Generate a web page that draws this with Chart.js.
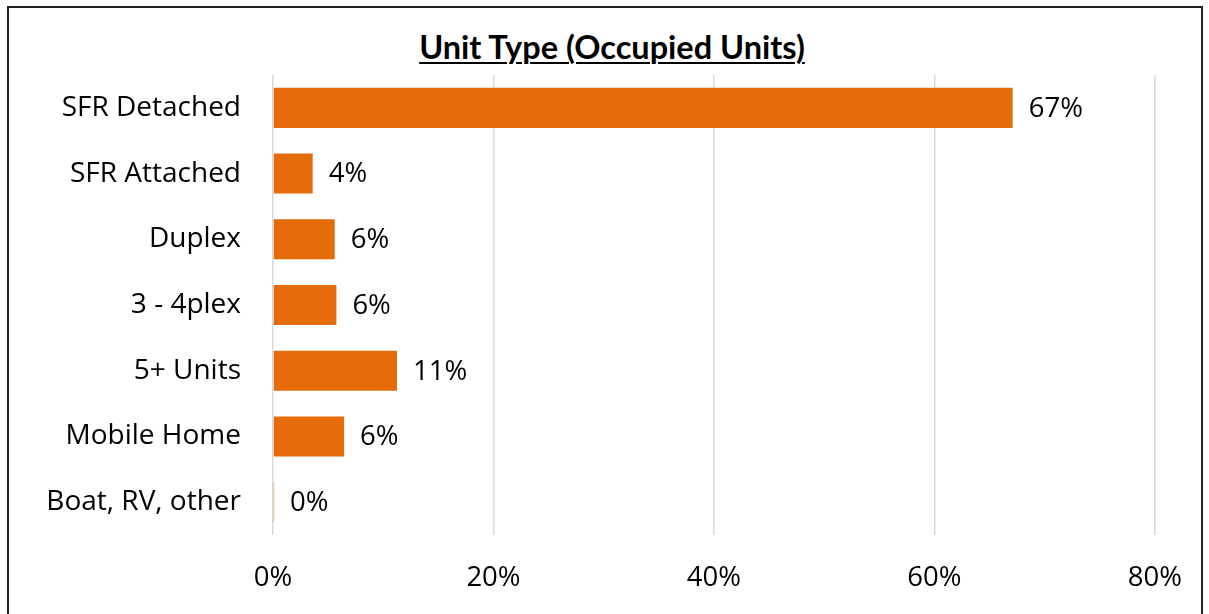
<!DOCTYPE html>
<html>
<head>
<meta charset="utf-8">
<script src="https://cdn.jsdelivr.net/npm/chart.js@4"></script>
<style>
  body { margin: 0; background: #fff; }
  #wrap { position: relative; width: 1209px; height: 614px; overflow: hidden; }
  #frame { position: absolute; left: 7px; top: 6px; width: 1196px; height: 640px; border: 2px solid #222; box-sizing: border-box; }
  #title { position: absolute; left: 0; width: 1224px; top: 27px; text-align: center;
           font-family: Lato, sans-serif; font-weight: bold; font-size: 32.5px; color: #000;
           text-decoration: underline; text-decoration-thickness: 2px; text-underline-offset: 3px; }
  canvas { position: absolute; left: 0; top: 0; }
</style>
</head>
<body>
<div id="wrap">
  <div id="frame"></div>
  <div id="title">Unit Type (Occupied Units)</div>
  <canvas id="unitChart" width="1209" height="614"></canvas>
</div>
<script>
// Unit type shares (percent of occupied units)
const unitTypes = ['SFR Detached', 'SFR Attached', 'Duplex', '3 - 4plex', '5+ Units', 'Mobile Home', 'Boat, RV, other'];
const unitShares = [67.1, 3.6, 5.6, 5.75, 11.25, 6.45, 0.1];
const xTicks = [0, 20, 40, 60, 80];

const barColor = '#E46C0A';
const fontFamily = '"Open Sans", sans-serif';

// draws the "67%" style labels at the end of each bar
const valueLabels = {
    id: 'valueLabels',
    afterDatasetsDraw(chart) {
        const ctx = chart.ctx;
        const meta = chart.getDatasetMeta(0);
        ctx.save();
        ctx.font = '27.5px ' + fontFamily;
        ctx.fillStyle = '#000';
        ctx.textAlign = 'left';
        ctx.textBaseline = 'middle';
        meta.data.forEach(function(bar, i) {
            ctx.fillText(Math.round(unitShares[i]) + '%', bar.x + 16, bar.y + 1);
        });
        ctx.restore();
    }
};

document.addEventListener('DOMContentLoaded', function() {
    const ctx = document.getElementById('unitChart').getContext('2d');
    new Chart(ctx, {
        type: 'bar',
        data: {
            labels: unitTypes,
            datasets: [{
                data: unitShares,
                backgroundColor: barColor,
                borderWidth: 0,
                categoryPercentage: 1,
                barPercentage: 0.61
            }]
        },
        options: {
            indexAxis: 'y',
            responsive: false,
            animation: false,
            layout: { padding: { left: 0, right: 54, top: 75, bottom: 0 } },
            plugins: {
                legend: { display: false },
                tooltip: { enabled: false }
            },
            scales: {
                x: {
                    min: 0,
                    max: 80,
                    afterBuildTicks: function(scale) {
                        scale.ticks = xTicks.map(function(v) { return { value: v }; });
                    },
                    afterFit: function(scale) { scale.height = 79; },
                    grid: { color: '#d9d9d9', lineWidth: 1.5, drawTicks: false },
                    border: { display: false },
                    ticks: {
                        padding: 27,
                        color: '#000',
                        font: { family: fontFamily, size: 27.5 },
                        callback: function(v) { return v + '%'; }
                    }
                },
                y: {
                    afterFit: function(scale) { scale.width = 273; },
                    grid: { display: false, drawTicks: false },
                    border: { display: false },
                    ticks: {
                        padding: 32,
                        color: '#000',
                        font: { family: fontFamily, size: 28 }
                    }
                }
            }
        },
        plugins: [valueLabels]
    });
});
</script>
</body>
</html>
